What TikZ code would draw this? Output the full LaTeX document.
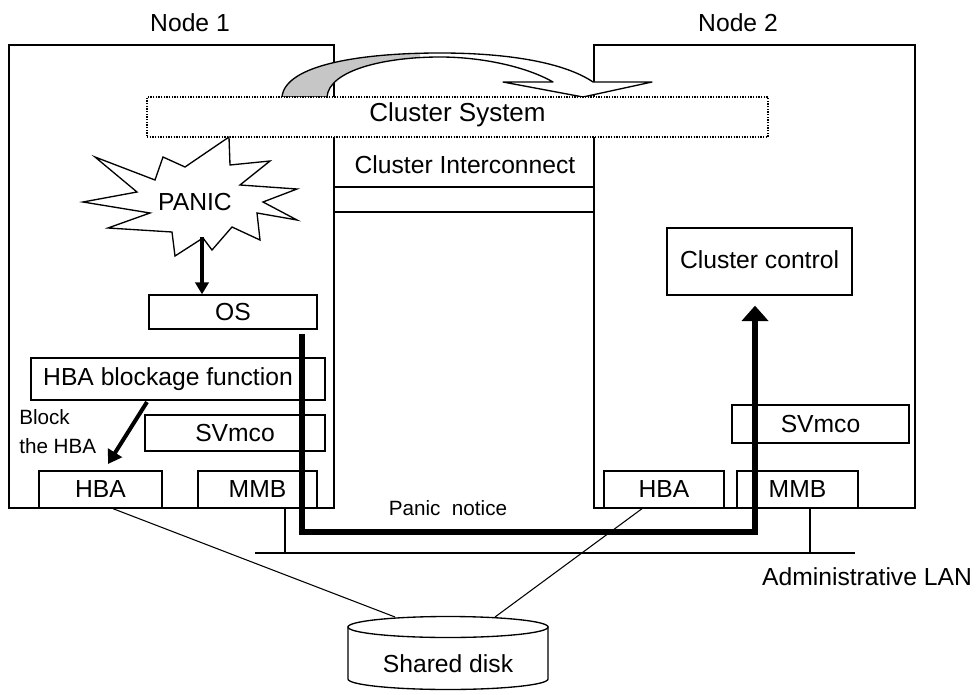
\documentclass[tikz,border=0pt]{standalone}
\usepackage{fontspec}
\setmainfont{Liberation Sans}
\usetikzlibrary{arrows.meta,fit}
\begin{document}
\begin{tikzpicture}[x=0.75pt,y=-0.75pt,
  every node/.style={font=\fontsize{18.5}{22}\selectfont, text=black},
  frame/.style={draw, line width=1pt, inner sep=0pt},
  box/.style={draw, line width=1pt, inner sep=0pt, fill=white},
  dotbox/.style={draw, line width=0.9pt, dash pattern=on 1pt off 1pt, inner sep=0pt, fill=white},
  thin line/.style={line width=0.8pt},
  small/.style={font=\fontsize{15.5}{21.75}\selectfont},
  fat arrow/.style={line width=3pt, -{Triangle[width=10pt,length=9pt]}},
  notice/.style={line width=3.8pt, line join=miter, -{Triangle[width=19.5pt,length=11.5pt]}},
]
\useasboundingbox (0,0) rectangle (977,695);

% node frames
\node[frame, fit={(9,45)(334,508)}] (n1) {};
\node[frame, fit={(594,45)(915,508)}] (n2) {};
\node (n1lbl) at (190,23) {Node 1};
\node (n2lbl) at (738,23) {Node 2};

% interconnect lines
\draw[line width=1pt] (n1.east |- 0,187) -- (n2.west |- 0,187);
\draw[line width=1pt] (n1.east |- 0,212) -- (n2.west |- 0,212);
\node (ci) at (465,165) {Cluster Interconnect};

% curved failover arrow
\def\curvedarrow{(282,97) .. controls (285,65) and (360,53) .. (440,53)
  .. controls (510,53) and (565,63) .. (593,82) -- (652,82) -- (583,97) -- (503,82) -- (553,82)
  .. controls (525,66) and (480,57) .. (440,57)
  .. controls (385,57) and (329,70) .. (327,97) -- cycle}
\fill[white] \curvedarrow;
\begin{scope}
  \clip (270,40) rectangle (420,100);
  \fill[gray!45] \curvedarrow;
\end{scope}
\draw[line width=1pt, line join=round] \curvedarrow;

% cluster system box
\node[dotbox, fit={(147,97)(768,137)}] (cs) {};
\node[font=\fontsize{19.5}{22}\selectfont] (cstext) at ([yshift=2pt]cs.center) {Cluster System};

% PANIC starburst
\draw[line width=1pt, fill=white, line join=miter]
  (229,137) -- (230,165) -- (270,161) -- (240,185) -- (297,189) -- (263,202)
  -- (297,220) -- (257,213) -- (260,240) -- (232,227) -- (212,250) -- (203,238)
  -- (175,256) -- (172,232) -- (108,228) -- (150,213) -- (83,202) -- (137,192)
  -- (95,157) -- (155,180) -- (163,157) -- (185,167) -- cycle;
\node (panic) at (195,202) {PANIC};

% node 1 boxes
\node[box, fit={(149,295)(317,329)}] (os) {};
\node (ostext) at (os.center) {OS};
\node[box, fit={(31,358)(325,400)}] (hbf) {};
\node (hbftext) at ([xshift=-7.5pt]hbf.center) {HBA blockage function};
\node[box, fit={(145,415)(325,451)}] (sv1) {};
\node (sv1text) at (sv1.center) {SVmco};
\node[box, fit={(39,471)(162,508)}] (hba1) {};
\node (hba1text) at (hba1.center) {HBA};
\node[box, fit={(198,471)(317,508)}] (mmb1) {};
\node (mmb1text) at (mmb1.center) {MMB};
\node[small, align=left, anchor=west, inner sep=0pt] (blk) at (19,432) {Block\\the HBA};

% node 2 boxes
\node[box, fit={(667,228)(852,295)}] (cc) {};
\node (cctext) at ([yshift=1pt]cc.center) {Cluster control};
\node[box, fit={(732,405)(909,443)}] (sv2) {};
\node (sv2text) at (sv2.center) {SVmco};
\node[box, fit={(604,471)(724,508)}] (hba2) {};
\node (hba2text) at (hba2.center) {HBA};
\node[box, fit={(737,471)(858,508)}] (mmb2) {};
\node (mmb2text) at (mmb2.center) {MMB};

% arrows in node 1
\coordinate (pstart) at (202,237);
\draw[fat arrow] (pstart) -- (pstart |- os.north);
\coordinate (bstart) at (147,402);
\coordinate (bend) at (108,464);
\draw[fat arrow, -{Triangle[width=12pt,length=10pt]}] (bstart) -- (bend);

% administrative LAN
\coordinate (lanL) at (255,553);
\coordinate (lanR) at (855,553);
\draw[line width=1pt] (lanL) -- (lanR);
\draw[line width=1pt] (mmb1.south -| 285,0) -- (lanL -| 285,0);
\draw[line width=1pt] (mmb2.south -| 810,0) -- (lanL -| 810,0);
\node (lan) at (867,577) {Administrative LAN};

% panic notice
\draw[notice, shorten <=3pt, shorten >=7.5pt] (os.south -| 302,0) -- (302,532) -- (755,532) -- (cc.south -| 755,0);
\node[small] (pn) at (448,508) {Panic\ \ notice};

% shared disk
\draw[line width=1pt, fill=white] (348,627) -- (348,679) arc[start angle=180, end angle=0, x radius=100, y radius=10.5] -- (548,627) -- cycle;
\draw[line width=1pt, fill=white] (448,627) ellipse [x radius=100, y radius=10.5];
\node (disk) at (448,664) {Shared disk};
\coordinate (dtopL) at (395,617);
\coordinate (dtopR) at (495,617);
\draw[thin line] (hba1.south -| 113,0) -- (dtopL);
\draw[thin line] (hba2.south -| 642,0) -- (dtopR);
\end{tikzpicture}
\end{document}
